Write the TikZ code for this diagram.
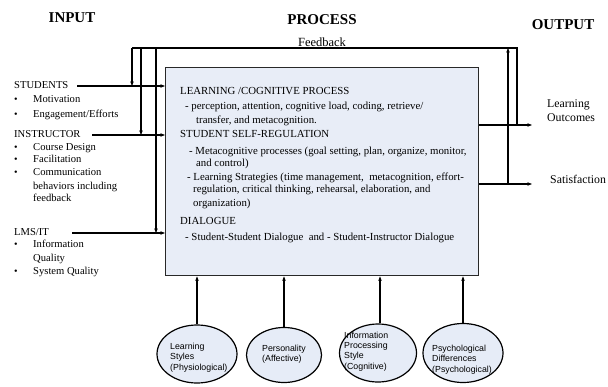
\documentclass[tikz,border=0pt]{standalone}
\usepackage{fontspec}
\setmainfont{Liberation Serif}
\newfontfamily\ellfont{Liberation Sans}
\usetikzlibrary{arrows.meta,shapes.geometric}
\definecolor{procfill}{RGB}{232,237,247}
\definecolor{ellfill}{RGB}{230,236,247}
\definecolor{frame}{RGB}{40,40,40}
\begin{document}
\begin{tikzpicture}[x=1pt,y=-1pt,
  wire/.style={draw=black,line width=1.1pt},
  arr/.style={wire,-{Stealth[length=4.5pt,width=3.5pt]}},
  header/.style={font=\fontsize{15}{17}\selectfont\bfseries,inner sep=0pt},
  boxline/.style={anchor=mid west,inner sep=0pt,font=\fontsize{10.8}{12}\selectfont},
  leftline/.style={anchor=mid west,inner sep=0pt,font=\fontsize{10.6}{12}\selectfont},
  outline/.style={anchor=mid west,inner sep=0pt,font=\fontsize{11.8}{13.5}\selectfont,align=left},
  factor/.style={ellipse,draw=black,line width=1.2pt,fill=ellfill,inner sep=0pt},
  factortext/.style={anchor=west,inner sep=0pt,align=left,font=\ellfont\fontsize{8.8}{10.4}\selectfont},
  bul/.style={anchor=center,inner sep=0pt,font=\fontsize{10}{12}\selectfont}]
\useasboundingbox (0,0) rectangle (608,386);

% column headings
\node[header] (hin)  at (72,18) {INPUT};
\node[header] (hpro) at (322,20) {PROCESS};
\node[header] (hout) at (563,25) {OUTPUT};
\node[inner sep=0pt,font=\fontsize{12.5}{14}\selectfont] (fb) at (322,42) {Feedback};

% central process box
\node[draw=frame,line width=1.4pt,fill=procfill,minimum width=313pt,minimum height=208pt,
      anchor=north west,inner sep=0pt] (proc) at (165,67) {};

\node[boxline] (l1)  at (180,92)  {LEARNING /COGNITIVE PROCESS};
\node[boxline] (l2)  at (185,107) {- perception, attention, cognitive load, coding, retrieve/};
\node[boxline] (l3)  at (196,121) {transfer, and metacognition.};
\node[boxline] (l4)  at (180,135) {STUDENT SELF-REGULATION};
\node[boxline] (l5)  at (189,152) {- Metacognitive processes (goal setting, plan, organize, monitor,};
\node[boxline] (l6)  at (196,164) {and control)};
\node[boxline] (l7)  at (187,178) {- Learning Strategies (time management,\ \ metacognition, effort-};
\node[boxline] (l8)  at (193,190) {regulation, critical thinking, rehearsal, elaboration, and};
\node[boxline] (l9)  at (193,204) {organization)};
\node[boxline] (l10) at (180,222) {DIALOGUE};
\node[boxline] (l11) at (185,238) {- Student-Student Dialogue\ \ and - Student-Instructor Dialogue};

% inputs
\node[leftline] (stud) at (14,86) {STUDENTS};
\node[bul] (b1) at (16,100) {•}; \node[leftline] (i1) at (33,100) {Motivation};
\node[bul] (b2) at (16,115) {•}; \node[leftline] (i2) at (33,115) {Engagement/Efforts};
\node[leftline] (inst) at (14,135) {INSTRUCTOR};
\node[bul] (b3) at (16,148) {•}; \node[leftline] (i3) at (33,148) {Course Design};
\node[bul] (b4) at (16,160) {•}; \node[leftline] (i4) at (33,160) {Facilitation};
\node[bul] (b5) at (16,173) {•}; \node[leftline] (i5) at (33,173) {Communication};
\node[leftline] (i6) at (33,187) {behaviors including};
\node[leftline] (i7) at (33,199) {feedback};
\node[leftline] (lms) at (14,233) {LMS/IT};
\node[bul] (b6) at (16,245) {•}; \node[leftline] (i8) at (33,245) {Information};
\node[leftline] (i9) at (33,259) {Quality};
\node[bul] (b7) at (16,272) {•}; \node[leftline] (i10) at (33,272) {System Quality};

\coordinate (sIn) at (77,86);
\coordinate (iIn) at (92,135);
\coordinate (mIn) at (72,233);
\draw[arr] (sIn) -- (sIn -| proc.west);
\draw[arr] (iIn) -- (iIn -| proc.west);
\draw[arr] (mIn) -- (mIn -| proc.west);

% outputs
\node[outline] (lo) at (547,119) {Learning\\Outcomes};
\node[outline] (sat) at (550,181) {Satisfaction};
\coordinate (loEnd) at (532,125);
\coordinate (satEnd) at (532,184);
\draw[arr] (loEnd -| proc.east) -- (loEnd);
\draw[arr] (satEnd -| proc.east) -- (satEnd);

% feedback loop
\coordinate (fbR) at (517,125);
\coordinate (fbS) at (508,184);
\coordinate (top) at (0,48);
\coordinate (d1) at (132,0);
\coordinate (d2) at (141,0);
\coordinate (d3) at (156,0);
\draw[wire] (fbR) -- (fbR |- top) -- (d1 |- top);
\draw[arr] (fbS) -- (fbS |- top);
\draw[arr] (d1 |- top) -- (d1 |- sIn);
\draw[arr] (d2 |- top) -- (d2 |- iIn);
\draw[arr] (d3 |- top) -- (d3 |- mIn);

% individual factors
\node[factor,minimum width=80pt,minimum height=58pt] (e1) at (197,354) {};
\node[factor,minimum width=75pt,minimum height=55pt] (e2) at (284,355) {};
\node[factor,minimum width=77pt,minimum height=58pt] (e3) at (378,353) {};
\node[factor,minimum width=80pt,minimum height=59pt] (e4) at (463,353) {};
\node[factortext] (t1) at (170,357.5) {Learning\\Styles\\(Physiological)};
\node[factortext] (t2) at (262,354) {Personality\\(Affective)};
\node[factortext] (t3) at (344,351.5) {Information\\Processing\\Style\\(Cognitive)};
\node[factortext] (t4) at (432,359.5) {Psychological\\Differences\\(Psychological)};

\draw[arr] (e1.north) -- (e1.north |- proc.south);
\draw[arr] (e2.north) -- (e2.north |- proc.south);
\draw[arr] (e3.north) ++(2,0) coordinate (e3t) -- (e3t |- proc.south);
\draw[arr] (e4.north) -- (e4.north |- proc.south);
\end{tikzpicture}
\end{document}
